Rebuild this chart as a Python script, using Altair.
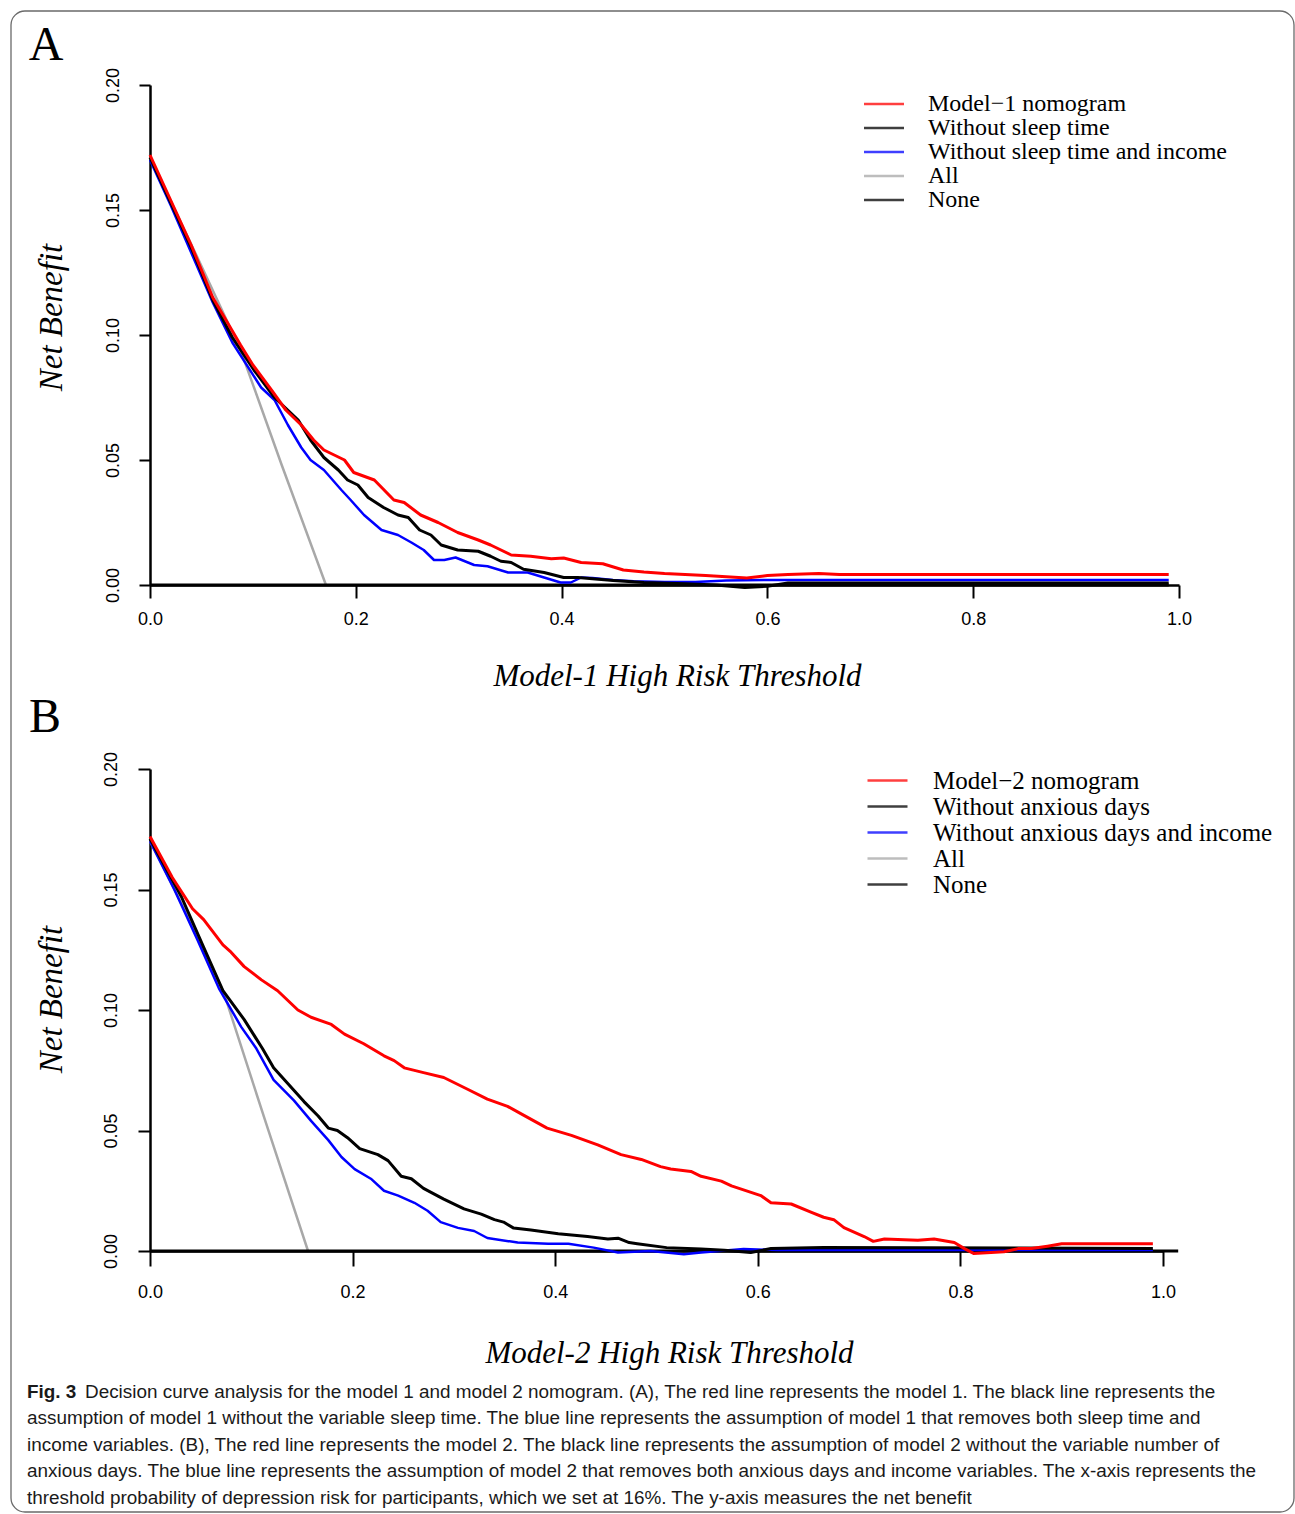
import altair as alt
import pandas as pd

# ---------------- Panel A data ----------------
A_SERIES = ["Model\u22121 nomogram", "Without sleep time", "Without sleep time and income", "All", "None"]

A_red_t = [0.0, 0.02, 0.04, 0.061, 0.088, 0.10, 0.118, 0.132, 0.147, 0.159, 0.169, 0.179, 0.189, 0.198,
           0.218, 0.237, 0.247, 0.263, 0.280, 0.299, 0.319, 0.331, 0.351, 0.370, 0.390, 0.402, 0.419,
           0.44, 0.46, 0.48, 0.50, 0.52, 0.54, 0.56, 0.58, 0.60, 0.62, 0.65, 0.67, 0.70, 0.99]
A_red_v = [0.172, 0.154, 0.136, 0.115, 0.096, 0.088, 0.078, 0.070, 0.064, 0.058, 0.054, 0.052, 0.050, 0.045,
           0.042, 0.034, 0.033, 0.028, 0.025, 0.021, 0.018, 0.016, 0.012, 0.0115, 0.0105, 0.0108, 0.009,
           0.0085, 0.006, 0.0052, 0.0046, 0.0042, 0.0038, 0.0033, 0.0028, 0.0038, 0.0042, 0.0046, 0.0042,
           0.0042, 0.0042]

A_blk_t = [0.0, 0.02, 0.04, 0.061, 0.08, 0.101, 0.121, 0.144, 0.156, 0.169, 0.183, 0.192, 0.202, 0.212,
           0.227, 0.241, 0.251, 0.262, 0.273, 0.283, 0.299, 0.319, 0.331, 0.341, 0.351, 0.363, 0.383,
           0.402, 0.416, 0.43, 0.45, 0.48, 0.52, 0.55, 0.578, 0.60, 0.62, 0.99]
A_blk_v = [0.171, 0.153, 0.135, 0.114, 0.099, 0.086, 0.075, 0.066, 0.058, 0.051, 0.046, 0.042, 0.040, 0.035,
           0.031, 0.028, 0.027, 0.022, 0.020, 0.016, 0.014, 0.0135, 0.0115, 0.0095, 0.009, 0.0063, 0.005,
           0.003, 0.003, 0.0025, 0.0018, 0.001, 0.0005, 0.0, -0.001, -0.0005, 0.0008, 0.0008]

A_blu_t = [0.0, 0.02, 0.04, 0.061, 0.08, 0.108, 0.121, 0.134, 0.147, 0.156, 0.169, 0.186, 0.195, 0.208,
           0.225, 0.241, 0.254, 0.266, 0.276, 0.286, 0.297, 0.315, 0.328, 0.348, 0.367, 0.383, 0.399,
           0.409, 0.419, 0.43, 0.45, 0.47, 0.50, 0.53, 0.56, 0.60, 0.99]
A_blu_v = [0.170, 0.152, 0.133, 0.113, 0.097, 0.079, 0.074, 0.064, 0.055, 0.050, 0.046, 0.038, 0.034, 0.028,
           0.022, 0.020, 0.017, 0.014, 0.010, 0.010, 0.011, 0.008, 0.0075, 0.005, 0.005, 0.003, 0.001,
           0.001, 0.003, 0.0028, 0.002, 0.0015, 0.0012, 0.0012, 0.0018, 0.002, 0.002]

A_all_t = [0.0, 0.045, 0.088, 0.128, 0.171]
A_all_v = [0.171, 0.132, 0.094, 0.048, 0.0]

A_none_t = [0.0, 0.99]
A_none_v = [0.0, 0.0]

# ---------------- Panel B data ----------------
B_SERIES = ["Model\u22122 nomogram", "Without anxious days", "Without anxious days and income", "All", "None"]

B_red_t = [0.0, 0.022, 0.042, 0.053, 0.072, 0.080, 0.093, 0.110, 0.126, 0.146, 0.159, 0.179, 0.192, 0.211,
           0.231, 0.241, 0.251, 0.270, 0.290, 0.314, 0.333, 0.353, 0.366, 0.392, 0.416, 0.442, 0.465,
           0.485, 0.504, 0.514, 0.534, 0.544, 0.564, 0.574, 0.603, 0.613, 0.633, 0.653, 0.665, 0.675,
           0.685, 0.705, 0.714, 0.725, 0.758, 0.774, 0.794, 0.804, 0.813, 0.843, 0.857, 0.870, 0.886,
           0.90, 0.99]
B_red_v = [0.172, 0.155, 0.142, 0.1375, 0.127, 0.124, 0.118, 0.1125, 0.108, 0.100, 0.097, 0.094, 0.090,
           0.086, 0.081, 0.079, 0.076, 0.074, 0.072, 0.067, 0.063, 0.060, 0.057, 0.051, 0.048, 0.044, 0.040,
           0.038, 0.035, 0.034, 0.033, 0.031, 0.029, 0.027, 0.023, 0.020, 0.0195, 0.016, 0.014, 0.013,
           0.0097, 0.006, 0.004, 0.005, 0.0045, 0.005, 0.0035, 0.001, -0.001, -0.0003, 0.001, 0.001, 0.002,
           0.003, 0.003]

B_blk_t = [0.0, 0.031, 0.053, 0.072, 0.093, 0.111, 0.122, 0.152, 0.166, 0.176, 0.185, 0.195, 0.207, 0.225,
           0.235, 0.248, 0.258, 0.270, 0.290, 0.310, 0.327, 0.340, 0.349, 0.359, 0.376, 0.403, 0.432,
           0.452, 0.462, 0.473, 0.481, 0.510, 0.544, 0.567, 0.593, 0.613, 0.665, 0.99]
B_blk_v = [0.171, 0.147, 0.126, 0.108, 0.096, 0.084, 0.076, 0.062, 0.056, 0.051, 0.050, 0.047, 0.0425,
           0.040, 0.0375, 0.031, 0.030, 0.026, 0.0215, 0.0175, 0.0153, 0.013, 0.012, 0.0095, 0.0087, 0.0072,
           0.006, 0.005, 0.0053, 0.0035, 0.003, 0.0014, 0.0008, 0.0003, -0.0006, 0.001, 0.0015, 0.001]

B_blu_t = [0.0, 0.024, 0.047, 0.068, 0.090, 0.105, 0.122, 0.142, 0.159, 0.176, 0.189, 0.202, 0.218, 0.231,
           0.245, 0.261, 0.274, 0.287, 0.304, 0.320, 0.333, 0.363, 0.393, 0.413, 0.438, 0.462, 0.494,
           0.527, 0.544, 0.586, 0.62, 0.99]
B_blu_v = [0.170, 0.150, 0.129, 0.109, 0.093, 0.084, 0.071, 0.0625, 0.054, 0.046, 0.039, 0.034, 0.030,
           0.025, 0.023, 0.020, 0.0167, 0.012, 0.0096, 0.0083, 0.0054, 0.0035, 0.003, 0.003, 0.0014,
           -0.0006, 0.0, -0.0013, -0.0006, 0.0008, 0.0004, 0.0004]

B_all_t = [0.0, 0.036, 0.073, 0.113, 0.156]
B_all_v = [0.170, 0.140, 0.107, 0.055, 0.0]

B_none_t = [0.0, 1.015]
B_none_v = [0.0, 0.0]

X_TICKS = [0.0, 0.2, 0.4, 0.6, 0.8, 1.0]
Y_TICKS = [0.0, 0.05, 0.10, 0.15, 0.20]

CAPTION_HEAD = "Fig. 3"
CAPTION_FIRST = ("Decision curve analysis for the model 1 and model 2 nomogram. (A), The red line represents "
                 "the model 1. The black line represents the")
CAPTION_REST = [
    "assumption of model 1 without the variable sleep time. The blue line represents the assumption of model 1 that removes both sleep time and",
    "income variables. (B), The red line represents the model 2. The black line represents the assumption of model 2 without the variable number of",
    "anxious days. The blue line represents the assumption of model 2 that removes both anxious days and income variables. The x-axis represents the",
    "threshold probability of depression risk for participants, which we set at 16%. The y-axis measures the net benefit",
]

# ---------------- styling ----------------
COLORS = ["#ff0000", "#000000", "#0000ff", "#a8a8a8", "#000000"]
WIDTHS = [3.0, 3.0, 2.5, 2.5, 3.0]
DRAW_ORDER = [3, 4, 2, 1, 0]
SERIF = "Liberation Serif"
SANS = "Liberation Sans"
CAP_SIZE = 18.9


def build_df(names, pairs):
    frames = []
    for n, (t, v) in zip(names, pairs):
        frames.append(pd.DataFrame({"t": t, "v": v, "series": n}))
    return pd.concat(frames, ignore_index=True)


def panel(names, pairs, width, height, xkw, ykw, lkw, extra):
    df = build_df(names, pairs)
    cscale = alt.Scale(domain=names, range=COLORS)
    xenc = alt.X("t:Q", scale=alt.Scale(domain=[0, 1], nice=False, zero=False), axis=alt.Axis(**xkw))
    yenc = alt.Y("v:Q", scale=alt.Scale(domain=[0, 0.2], nice=False, zero=False), axis=alt.Axis(**ykw))
    layers = []
    for i in DRAW_ORDER:
        name = names[i]
        layers.append(
            alt.Chart(df)
            .transform_filter(alt.datum.series == name)
            .mark_line(strokeWidth=WIDTHS[i], strokeJoin="round")
            .encode(x=xenc, y=yenc,
                    color=alt.Color("series:N", scale=cscale, legend=alt.Legend(**lkw)),
                    order="t:Q")
        )
    return alt.layer(*layers, *extra).properties(width=width, height=height)


def xaxis(title, tick, pad, tx, ty):
    return dict(values=X_TICKS, format=".1f", title=title, grid=False, tickSize=tick, tickWidth=2,
                tickColor="black", domainColor="black", domainWidth=2.5, labelFont=SANS, labelFontSize=18,
                labelColor="black", labelPadding=pad, labelFlush=False, labelOverlap=False,
                titleFont=SERIF, titleFontStyle="italic", titleFontWeight="normal", titleFontSize=31,
                titleColor="black", titleX=tx, titleY=ty, titleAlign="center", titleBaseline="middle")


def yaxis(tick, pad, tx, ty):
    return dict(values=Y_TICKS, format=".2f", title="Net Benefit", grid=False, tickSize=tick, tickWidth=2,
                tickColor="black", domainColor="black", domainWidth=2.5, labelFont=SANS, labelFontSize=18,
                labelColor="black", labelAngle=270, labelAlign="center", labelBaseline="middle",
                labelPadding=pad, labelFlush=False, labelOverlap=False,
                titleFont=SERIF, titleFontStyle="italic", titleFontWeight="normal", titleFontSize=33,
                titleColor="black", titleAngle=270, titleX=tx, titleY=ty, titleAlign="center",
                titleBaseline="middle")


def legend(lx, ly, fs, rp, off):
    return dict(orient="none", legendX=lx, legendY=ly, title=None, symbolType="M-4,0H4", symbolSize=100,
                symbolStrokeWidth=2.5, symbolOpacity=0.75, labelFont=SERIF, labelFontSize=fs,
                labelColor="black", labelOffset=off, rowPadding=rp, padding=0, labelLimit=800)


one = pd.DataFrame({"k": [0]})

label_a = alt.Chart(pd.DataFrame({"p": ["A"]})).mark_text(
    font=SERIF, fontSize=48, align="center", baseline="middle", color="black"
).encode(text="p:N", x=alt.value(-104), y=alt.value(-39))

border = alt.Chart(one).mark_rect(
    fillOpacity=0, stroke="#6a6a6a", strokeWidth=1.3, cornerRadius=14
).encode(x=alt.value(-139), x2=alt.value(1144), y=alt.value(-74), y2=alt.value(1427))

label_b = alt.Chart(pd.DataFrame({"p": ["B"]})).mark_text(
    font=SERIF, fontSize=48, align="center", baseline="middle", color="black"
).encode(text="p:N", x=alt.value(-105), y=alt.value(-51))

cap_head = alt.Chart(pd.DataFrame({"c": [CAPTION_HEAD]})).mark_text(
    font=SANS, fontSize=CAP_SIZE, fontWeight="bold", align="left", baseline="middle", color="#1a1a1a"
).encode(text="c:N", x=alt.value(-123), y=alt.value(623))

cap_first = alt.Chart(pd.DataFrame({"c": [CAPTION_FIRST]})).mark_text(
    font=SANS, fontSize=CAP_SIZE, align="left", baseline="middle", color="#1a1a1a"
).encode(text="c:N", x=alt.value(-65), y=alt.value(623))

cap_rest = alt.Chart(pd.DataFrame({"c": ["\n".join(CAPTION_REST)]})).mark_text(
    font=SANS, fontSize=CAP_SIZE, align="left", baseline="top", color="#1a1a1a", lineBreak="\n",
    lineHeight=26.5
).encode(text="c:N", x=alt.value(-123), y=alt.value(640))

chart_a = panel(
    A_SERIES,
    [(A_red_t, A_red_v), (A_blk_t, A_blk_v), (A_blu_t, A_blu_v), (A_all_t, A_all_v), (A_none_t, A_none_v)],
    1029, 500,
    xaxis("Model-1 High Risk Threshold", 13, 12, 527, 91),
    yaxis(11, 26, -99, 232),
    legend(722, 7, 24, -0.5, 32),
    [border, label_a],
)

chart_b = panel(
    B_SERIES,
    [(B_red_t, B_red_v), (B_blk_t, B_blk_v), (B_blu_t, B_blu_v), (B_all_t, B_all_v), (B_none_t, B_none_v)],
    1013, 482,
    xaxis("Model-2 High Risk Threshold", 15, 17, 519, 102),
    yaxis(12, 27, -99, 230),
    legend(725, -1, 25, -1, 33),
    [label_b, cap_head, cap_first, cap_rest],
)

chart = (
    alt.vconcat(chart_a, chart_b, spacing=184)
    .properties(bounds="flush", padding={"left": 10, "top": 10, "right": 0, "bottom": 0},
                background="white")
    .resolve_scale(color="independent")
    .configure_view(strokeOpacity=0)
)

chart.save("out.html", embed_options={"renderer": "svg", "actions": False})
